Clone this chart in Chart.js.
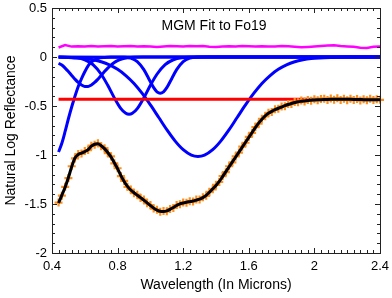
<!DOCTYPE html>
<html>
<head>
<meta charset="utf-8">
<script src="https://cdn.jsdelivr.net/npm/chart.js@4.4.1/dist/chart.umd.min.js"></script>
<style>
  html, body { margin: 0; padding: 0; background: #fff; }
  #chart { display: block; }
</style>
</head>
<body>
<canvas id="chart" width="392" height="298"></canvas>
<script>
// wavelength grid of the spectrum (microns)
const wavelength = [
  0.44, 0.46, 0.48, 0.50, 0.52, 0.54, 0.56, 0.58, 0.60, 0.62,
  0.64, 0.66, 0.68, 0.70, 0.72, 0.74, 0.76, 0.78, 0.80, 0.82,
  0.84, 0.86, 0.88, 0.90, 0.92, 0.94, 0.96, 0.98, 1.00, 1.02,
  1.04, 1.06, 1.08, 1.10, 1.12, 1.14, 1.16, 1.18, 1.20, 1.22,
  1.24, 1.26, 1.28, 1.30, 1.32, 1.34, 1.36, 1.38, 1.40, 1.42,
  1.44, 1.46, 1.48, 1.50, 1.52, 1.54, 1.56, 1.58, 1.60, 1.62,
  1.64, 1.66, 1.68, 1.70, 1.72, 1.74, 1.76, 1.78, 1.80, 1.82,
  1.84, 1.86, 1.88, 1.90, 1.92, 1.94, 1.96, 1.98, 2.00, 2.02,
  2.04, 2.06, 2.08, 2.10, 2.12, 2.14, 2.16, 2.18, 2.20, 2.22,
  2.24, 2.26, 2.28, 2.30, 2.32, 2.34, 2.36, 2.38, 2.40
];

// measured log reflectance (orange crosses)
const measured = [
  -1.485, -1.415, -1.325, -1.235, -1.115, -1.035, -0.99, -0.985, -0.96, -0.95,
  -0.905, -0.895, -0.88, -0.91, -0.93, -0.98, -1.015, -1.085, -1.135, -1.215,
  -1.265, -1.325, -1.352, -1.39, -1.405, -1.44, -1.455, -1.493, -1.51, -1.547,
  -1.558, -1.58, -1.572, -1.575, -1.55, -1.54, -1.51, -1.503, -1.485, -1.487,
  -1.471, -1.475, -1.455, -1.455, -1.43, -1.417, -1.375, -1.35, -1.305, -1.275,
  -1.215, -1.175, -1.115, -1.075, -1.015, -0.975, -0.915, -0.875, -0.815, -0.775,
  -0.715, -0.68, -0.63, -0.605, -0.57, -0.56, -0.533, -0.528, -0.505, -0.502,
  -0.48, -0.479, -0.46, -0.462, -0.445, -0.455, -0.438, -0.447, -0.431, -0.442,
  -0.428, -0.425, -0.44, -0.424, -0.437, -0.422, -0.438, -0.427, -0.441, -0.425,
  -0.44, -0.429, -0.445, -0.43, -0.442, -0.426, -0.44, -0.43, -0.437
];

// modelled spectrum (black line)
const modelFit = [
  -1.49, -1.41, -1.33, -1.23, -1.12, -1.03, -0.995, -0.98, -0.965, -0.945,
  -0.91, -0.89, -0.885, -0.905, -0.935, -0.975, -1.02, -1.08, -1.14, -1.21,
  -1.27, -1.32, -1.357, -1.385, -1.41, -1.435, -1.46, -1.488, -1.515, -1.542,
  -1.562, -1.575, -1.577, -1.57, -1.555, -1.535, -1.515, -1.498, -1.49, -1.482,
  -1.476, -1.47, -1.46, -1.45, -1.435, -1.412, -1.38, -1.345, -1.31, -1.27,
  -1.22, -1.17, -1.12, -1.07, -1.02, -0.97, -0.92, -0.87, -0.82, -0.77,
  -0.72, -0.675, -0.635, -0.6, -0.575, -0.555, -0.538, -0.523, -0.51, -0.497,
  -0.485, -0.474, -0.465, -0.457, -0.452, -0.448, -0.444, -0.441, -0.438, -0.436,
  -0.435, -0.434, -0.433, -0.432, -0.431, -0.43, -0.43, -0.43, -0.431, -0.432,
  -0.433, -0.434, -0.434, -0.435, -0.435, -0.435, -0.435, -0.435, -0.435
];

// residual, offset by +0.1 (magenta)
const residualX = [
  0.44, 0.48, 0.52, 0.56, 0.60, 0.64, 0.68, 0.72, 0.76, 0.80,
  0.84, 0.88, 0.92, 0.96, 1.00, 1.04, 1.08, 1.12, 1.16, 1.20,
  1.24, 1.28, 1.32, 1.36, 1.40, 1.44, 1.48, 1.52, 1.56, 1.60,
  1.64, 1.68, 1.72, 1.76, 1.80, 1.84, 1.88, 1.92, 1.96, 2.00,
  2.04, 2.08, 2.12, 2.16, 2.20, 2.24, 2.28, 2.32, 2.36, 2.40
];
const residual = [
  0.097, 0.122, 0.106, 0.110, 0.108, 0.111, 0.107, 0.109, 0.111, 0.106,
  0.110, 0.112, 0.108, 0.110, 0.106, 0.101, 0.107, 0.112, 0.110, 0.108,
  0.111, 0.109, 0.112, 0.104, 0.101, 0.107, 0.110, 0.108, 0.111, 0.109,
  0.107, 0.110, 0.106, 0.108, 0.111, 0.109, 0.104, 0.099, 0.103, 0.108,
  0.112, 0.117, 0.119, 0.112, 0.108, 0.104, 0.095, 0.093, 0.104, 0.108
];

// continuum (red)
const continuumX = [0.44, 2.40];
const continuum = [-0.43, -0.43];

// individual gaussian bands (blue)
const bandUvX = [0.44, 0.46, 0.48, 0.50, 0.52, 0.54, 0.56, 0.58, 0.60, 0.62, 0.64, 0.66, 0.68, 0.72, 0.76, 0.80, 2.40];
const bandUv = [-0.97, -0.88, -0.76, -0.63, -0.51, -0.40, -0.30, -0.22, -0.15, -0.09, -0.05, -0.03, -0.015, -0.005, -0.001, 0, 0];

const band061X = [0.44, 0.46, 0.48, 0.50, 0.52, 0.54, 0.56, 0.58, 0.60, 0.62, 0.64, 0.66, 0.68, 0.70, 0.72, 0.74, 0.76, 0.78, 0.80, 0.83, 0.86, 0.90, 0.95, 2.40];
const band061 = [-0.064, -0.082, -0.113, -0.149, -0.188, -0.226, -0.26, -0.285, -0.30, -0.30, -0.285, -0.26, -0.226, -0.188, -0.149, -0.113, -0.082, -0.057, -0.037, -0.018, -0.008, -0.002, 0, 0];

const band087X = [0.44, 0.55, 0.60, 0.65, 0.70, 0.74, 0.78, 0.82, 0.85, 0.87, 0.89, 0.92, 0.96, 1.00, 1.04, 1.09, 1.14, 1.19, 1.30, 2.40];
const band087 = [0, -0.008, -0.028, -0.078, -0.176, -0.289, -0.417, -0.527, -0.575, -0.585, -0.575, -0.527, -0.417, -0.289, -0.176, -0.078, -0.028, -0.008, 0, 0];

const band106X = [0.44, 0.84, 0.88, 0.92, 0.96, 0.99, 1.02, 1.04, 1.06, 1.08, 1.10, 1.13, 1.16, 1.20, 1.24, 1.28, 1.35, 2.40];
const band106 = [0, -0.002, -0.012, -0.047, -0.129, -0.221, -0.313, -0.355, -0.37, -0.355, -0.313, -0.221, -0.129, -0.047, -0.012, -0.002, 0, 0];

const band129X = [0.44, 0.50, 0.55, 0.60, 0.65, 0.70, 0.75, 0.80, 0.85, 0.90, 0.95, 1.00, 1.05, 1.10, 1.15, 1.20, 1.25, 1.29,
  1.33, 1.38, 1.43, 1.48, 1.53, 1.58, 1.63, 1.68, 1.73, 1.78, 1.83, 1.88, 1.93, 1.98, 2.03, 2.10, 2.20, 2.40];
const band129 = [-0.002, -0.004, -0.009, -0.016, -0.029, -0.049, -0.080, -0.126, -0.189, -0.270, -0.372, -0.489, -0.615, -0.742, -0.856, -0.946, -1.001, -1.015,
  -1.001, -0.946, -0.856, -0.742, -0.615, -0.489, -0.372, -0.270, -0.189, -0.126, -0.080, -0.049, -0.029, -0.016, -0.009, -0.004, -0.001, 0];

// axis ticks
const xTicks = [0.4, 0.8, 1.2, 1.6, 2.0, 2.4];
const xTickLabels = ['0.4', '0.8', '1.2', '1.6', '2', '2.4'];
const yTicks = [-2, -1.5, -1, -0.5, 0, 0.5];
const yTickLabels = ['-2', '-1.5', '-1', '-0.5', '0', '0.5'];

const FONT = '"Liberation Sans", Arial, Helvetica, sans-serif';

function pts(xs, ys) {
  return xs.map((x, i) => ({ x: x, y: ys[i] }));
}

function blueBand(xs, ys) {
  return {
    data: pts(xs, ys),
    borderColor: '#0000ff',
    borderWidth: 3,
    pointRadius: 0,
    cubicInterpolationMode: 'monotone',
    order: 5
  };
}

// inward ticks on all four sides, frame and the inner title
const frameTicks = {
  id: 'frameTicks',
  afterDraw(chart) {
    const ctx = chart.ctx;
    const a = chart.chartArea;
    const xs = chart.scales.x;
    const ys = chart.scales.y;
    ctx.save();
    ctx.strokeStyle = '#222';
    ctx.lineWidth = 1;
    ctx.beginPath();
    for (let i = 0; i <= 50; i++) {
      const px = Math.round(xs.getPixelForValue(0.4 + i * 0.04)) + 0.5;
      const len = i % 10 === 0 ? 5 : 3;
      ctx.moveTo(px, a.bottom); ctx.lineTo(px, a.bottom - len);
      ctx.moveTo(px, a.top); ctx.lineTo(px, a.top + len);
    }
    for (let i = 0; i <= 25; i++) {
      const py = Math.round(ys.getPixelForValue(-2 + i * 0.1)) + 0.5;
      const len = i % 5 === 0 ? 5 : 3;
      ctx.moveTo(a.left, py); ctx.lineTo(a.left + len, py);
      ctx.moveTo(a.right, py); ctx.lineTo(a.right - len, py);
    }
    ctx.stroke();
    ctx.strokeRect(Math.round(a.left) + 0.5, Math.round(a.top) + 0.5,
      Math.round(a.right) - Math.round(a.left), Math.round(a.bottom) - Math.round(a.top));
    ctx.fillStyle = '#000';
    ctx.font = '14px ' + FONT;
    ctx.textAlign = 'center';
    ctx.textBaseline = 'middle';
    ctx.fillText('MGM Fit to Fo19', (a.left + a.right) / 2 - 2, a.top + 18);
    ctx.restore();
  }
};

const ctx = document.getElementById('chart').getContext('2d');
new Chart(ctx, {
  type: 'line',
  data: {
    datasets: [
      {
        data: pts(wavelength, modelFit),
        borderColor: '#000000',
        borderWidth: 3,
        pointRadius: 0,
        cubicInterpolationMode: 'monotone',
        order: 1
      },
      {
        data: pts(wavelength, measured),
        showLine: false,
        pointStyle: 'cross',
        pointRadius: 4,
        pointBorderWidth: 2.2,
        pointBorderColor: '#ff8f1f',
        pointBackgroundColor: '#ff8f1f',
        clip: 4,
        order: 2
      },
      {
        data: pts(continuumX, continuum),
        borderColor: '#ff0000',
        borderWidth: 3,
        pointRadius: 0,
        order: 3
      },
      blueBand(bandUvX, bandUv),
      blueBand(band061X, band061),
      blueBand(band087X, band087),
      blueBand(band106X, band106),
      blueBand(band129X, band129),
      {
        data: pts(residualX, residual),
        borderColor: '#ff00ff',
        borderWidth: 2.5,
        pointRadius: 0,
        order: 6
      }
    ]
  },
  options: {
    responsive: false,
    animation: false,
    layout: { padding: { top: 8, right: 12, left: 0, bottom: 0 } },
    plugins: {
      legend: { display: false },
      tooltip: { enabled: false }
    },
    scales: {
      x: {
        type: 'linear',
        min: 0.4,
        max: 2.4,
        grid: { display: false, drawTicks: false },
        border: { display: false },
        afterBuildTicks: (s) => { s.ticks = xTicks.map((v) => ({ value: v })); },
        afterFit: (s) => { s.height = 45; s.paddingLeft = 0; s.paddingRight = 0; },
        ticks: {
          padding: 6,
          color: '#000',
          font: { size: 13, family: FONT },
          maxRotation: 0,
          callback: (v, i) => xTickLabels[i]
        },
        title: {
          display: true,
          text: 'Wavelength (In Microns)',
          color: '#000',
          font: { size: 14, family: FONT },
          padding: { top: 0, bottom: 4 }
        }
      },
      y: {
        type: 'linear',
        min: -2,
        max: 0.5,
        grid: { display: false, drawTicks: false },
        border: { display: false },
        afterBuildTicks: (s) => { s.ticks = yTicks.map((v) => ({ value: v })); },
        afterFit: (s) => { s.width = 52; s.paddingTop = 0; s.paddingBottom = 0; },
        ticks: {
          padding: 5,
          color: '#000',
          font: { size: 13, family: FONT },
          callback: (v, i) => yTickLabels[i]
        },
        title: {
          display: true,
          text: 'Natural Log Reflectance',
          color: '#000',
          font: { size: 14, family: FONT },
          padding: { top: 3, bottom: 0 }
        }
      }
    }
  },
  plugins: [frameTicks]
});
</script>
</body>
</html>
